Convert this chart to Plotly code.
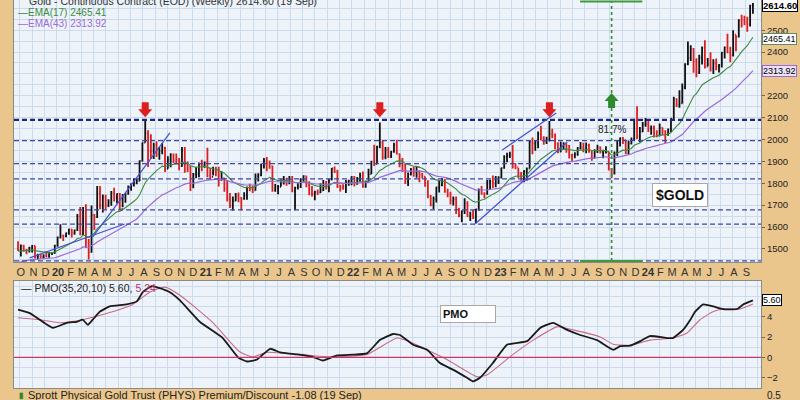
import plotly.graph_objects as go
import pandas as pd

# ---------------- weekly OHLC data (Gold continuous contract) ----------------
opens = [
 1505,1497,1513,1494,1494,1505,1514,1462,1468,1463,1466,1465,1481,1481,
 1515,1553,1562,1560,1572, 1589,1573,1586,1649, 1566,1674,1530,1485, 1655,1645,1753,1699, 1736,1700,1713,1756,1735, 1751,1683,1737,1753, 1780,1790,1801,1810,1902, 1986,2028,1949,1947, 1974,1934,1947,1962, 1866,1907,1930,1906,1905, 1879,1951,1887,1871, 1788,1840,1843,1888,1883,
 1895,1835,1829,1856, 1850,1814,1823,1777, 1728,1698,1720,1742, 1733,1729,1745,1780,1777, 1768,1832,1838,1877, 1903,1892,1878,1769, 1781,1784,1810,1815,1802, 1817,1763,1780,1784, 1819,1833,1792,1754, 1751,1760,1757,1768,1796, 1783,1817,1868,1852, 1788,1784,1784,1804,1811,
 1829,1797,1817,1835, 1786,1808,1842,1899, 1889,1966,1985,1922, 1954,1923,1945,1974,1934, 1911,1882,1808,1842, 1851,1850,1875,1840, 1830,1801,1742,1703,1727, 1781,1791,1816,1762, 1749,1721,1728,1678,1655, 1672,1709,1649,1656, 1645,1681,1771,1754, 1754,1809,1810,1800,1805,
 1826,1870,1921,1928, 1929,1876,1874,1842, 1817,1856,1867,1989,1983, 1986,2025,2007,1990, 1999,2025,2020,1981, 1945,1970,1977,1971,1930, 1929,1933,1961,1964, 1960,1976,1946,1915, 1947,1965,1942,1945,1945, 1866,1845,1941,1994, 2006,1999,1937,1984, 2003,2089,2015,2036,2069,
 2072,2050,2052,2029, 2018,2054,2038,2024, 2046,2095,2186,2161,2165, 2238,2345,2374,2413, 2358,2308,2375,2419,2334, 2345,2325,2349,2333, 2339,2397,2421,2400, 2386,2480,2471,2546,2545, 2536,2527,2611,
]
highs = [
 1535,1520,1519,1499,1510,1518,1514,1478,1478,1475,1489,1486,1484,1519,
 1557,1613,1563,1575,1592, 1591,1588,1659,1691, 1692,1704,1545,1698, 1660,1788,1788,1749, 1747,1727,1765,1779,1753, 1756,1751,1756,1790, 1800,1823,1822,1904,1986, 2089,2043,2024,1985, 1992,1966,1983,1967, 1924,1937,1936,1936,1916, 1966,1966,1900,1880, 1847,1875,1895,1907,1900,
 1962,1870,1875,1875, 1876,1855,1825,1815, 1756,1740,1756,1758, 1736,1759,1785,1798,1790, 1845,1846,1890,1915, 1920,1904,1880,1797, 1792,1818,1833,1825,1833, 1833,1784,1800,1823, 1837,1834,1809,1787, 1766,1771,1800,1815,1810, 1819,1870,1877,1862, 1793,1795,1815,1816,1832,
 1833,1829,1848,1854, 1812,1866,1903,1976, 1971,2078,1996,1966, 1966,1948,1985,1998,1935, 1915,1889,1849,1870, 1874,1878,1859,1847, 1831,1814,1746,1740,1784, 1810,1824,1819,1775, 1761,1740,1739,1688,1676, 1731,1718,1670,1678, 1683,1776,1787,1759, 1815,1816,1836,1833,1832,
 1871,1928,1939,1944, 1975,1891,1870,1852, 1860,1872,1997,2009,1998, 2037,2063,2015,2013, 2085,2049,2027,1988, 1990,1987,1983,1975,1935, 1942,1966,1989,1985, 1986,1981,1947,1956, 1976,1968,1953,1969,1945, 1870,1945,1998,2009, 2012,1997,1996,2009, 2095,2152,2057,2080,2098,
 2086,2064,2064,2042, 2073,2055,2043,2051, 2097,2196,2188,2225,2256, 2349,2448,2431,2418, 2372,2388,2425,2454,2373, 2399,2367,2370,2345, 2400,2425,2484,2424, 2500,2477,2550,2570,2566, 2561,2616,2624,
]
lows = [
 1490,1465,1487,1476,1483,1483,1456,1452,1456,1455,1462,1460,1472,1478,
 1510,1548,1536,1553,1565, 1552,1565,1582,1562, 1563,1504,1451,1483, 1586,1641,1681,1666, 1680,1691,1697,1717,1708, 1677,1690,1711,1748, 1766,1785,1795,1810,1899, 1986,1874,1911,1911, 1920,1907,1933,1851, 1866,1873,1893,1890,1860, 1876,1848,1852,1765, 1777,1823,1828,1855,1871,
 1827,1817,1836,1832, 1785,1813,1761,1717, 1687,1676,1719,1713, 1677,1725,1725,1764,1756, 1767,1808,1832,1868, 1855,1866,1761,1761, 1750,1785,1794,1789,1795, 1759,1677,1772,1778, 1808,1782,1745,1739, 1722,1746,1755,1765,1771, 1759,1814,1847,1778, 1762,1770,1755,1789,1791,
 1785,1793,1808,1780, 1780,1809,1842,1879, 1889,1960,1907,1910, 1915,1915,1940,1932,1873, 1851,1797,1787,1836, 1830,1825,1805,1822, 1784,1732,1695,1681,1712, 1758,1786,1757,1736, 1703,1698,1660,1645,1622, 1660,1647,1627,1637, 1618,1674,1748,1731, 1747,1770,1778,1782,1797,
 1822,1866,1896,1916, 1868,1864,1824,1811, 1805,1810,1867,1933,1949, 1960,1996,1976,1980, 1991,2006,1955,1937, 1942,1953,1939,1913,1900, 1914,1926,1954,1942, 1937,1940,1903,1914, 1938,1936,1914,1936,1858, 1823,1840,1925,1968, 1979,1933,1931,1977, 1998,2002,1987,2034,2058,
 2034,2022,2009,2010, 2015,2020,1984,2017, 2033,2090,2149,2145,2165, 2230,2340,2359,2305, 2285,2300,2343,2325,2335, 2311,2300,2317,2306, 2329,2371,2395,2353, 2380,2404,2466,2512,2523, 2493,2517,2575,
]
closes = [
 1497,1513,1494,1494,1505,1514,1462,1468,1463,1466,1465,1481,1481,1515,
 1553,1562,1560,1572,1589, 1573,1586,1649,1566, 1674,1530,1485,1655, 1645,1753,1699,1736, 1700,1713,1756,1735,1751, 1683,1737,1753,1780, 1790,1801,1810,1902,1986, 2028,1949,1947,1974, 1934,1947,1962,1866, 1907,1930,1906,1905,1879, 1951,1887,1871,1788, 1840,1843,1888,1883,1895,
 1835,1829,1856,1850, 1814,1823,1777,1728, 1698,1720,1742,1733, 1729,1745,1780,1777,1768, 1832,1838,1877,1903, 1892,1878,1769,1781, 1784,1810,1815,1802,1817, 1763,1780,1784,1819, 1833,1792,1754,1751, 1760,1757,1768,1796,1783, 1817,1868,1852,1788, 1784,1784,1804,1811,1829,
 1797,1817,1835,1786, 1808,1842,1899,1889, 1966,1985,1922,1954, 1923,1945,1974,1934,1911, 1882,1808,1842,1851, 1850,1875,1840,1830, 1801,1742,1703,1727,1781, 1791,1816,1762,1749, 1721,1728,1678,1655,1672, 1709,1649,1656,1645, 1681,1771,1754,1754, 1809,1810,1800,1805,1826,
 1870,1921,1928,1929, 1876,1874,1842,1817, 1856,1867,1989,1983,1986, 2025,2007,1990,1999, 2025,2020,1981,1945, 1970,1977,1971,1930,1929, 1933,1961,1964,1960, 1976,1946,1915,1947, 1965,1942,1945,1945,1866, 1845,1941,1994,2006, 1999,1937,1984,2003, 2089,2015,2036,2069,2072,
 2050,2052,2029,2018, 2054,2038,2024,2046, 2095,2186,2161,2165,2238, 2345,2374,2413,2358, 2308,2375,2419,2334,2345, 2325,2349,2333,2339, 2397,2421,2400,2386, 2480,2471,2546,2545,2536, 2527,2611,2614.6,
]
assert len(opens) == len(highs) == len(lows) == len(closes), (len(opens), len(highs), len(lows), len(closes))
first_week = "2019-09-27"
dates = pd.date_range(first_week, periods=len(closes), freq="W-FRI")

ema17_start = 1488
ema43_start = 1435
ema_tag_values = [2465.41, 2313.92]
last_price = 2614.60

# ---------------- PMO ----------------
pmo_dates = ["2019-09-27","2019-10-26","2019-12-22","2020-01-26","2020-02-20","2020-03-05","2020-03-18","2020-03-30",
 "2020-04-17","2020-05-11","2020-06-22","2020-07-17","2020-08-01","2020-08-23","2020-09-12","2020-10-07","2020-11-01",
 "2020-12-20","2021-02-15","2021-03-25","2021-04-16","2021-05-11","2021-06-12","2021-07-07","2021-08-18","2021-09-26",
 "2021-10-21","2021-11-25","2022-01-03","2022-02-07","2022-03-11","2022-04-13","2022-04-30","2022-06-01","2022-07-06",
 "2022-08-07","2022-09-08","2022-10-13","2022-10-28","2022-11-14","2022-12-16","2023-01-20","2023-03-11","2023-04-12",
 "2023-05-14","2023-06-18","2023-07-20","2023-08-31","2023-10-10","2023-10-27","2023-11-21","2023-12-16","2024-01-09",
 "2024-02-21","2024-03-06","2024-03-31","2024-04-18","2024-04-30","2024-05-20","2024-06-14","2024-07-08","2024-08-12",
 "2024-08-27","2024-09-20"]
pmo_vals = [4.7,4.35,2.9,3.4,3.5,3.7,3.2,3.7,
 4.5,5.0,5.2,5.5,6.4,7.0,6.8,6.4,5.6,
 3.5,1.9,0.0,-0.4,-0.2,0.85,0.5,0.3,0.05,
 -0.3,0.2,0.27,0.4,1.7,2.3,2.2,1.25,0.75,
 -0.55,-1.2,-2.0,-2.35,-2.0,-0.55,1.25,1.6,2.9,
 3.4,2.7,2.2,1.7,0.75,1.1,1.15,1.6,2.1,
 1.9,1.9,2.7,3.7,4.5,5.2,5.0,4.75,4.75,
 5.2,5.6]
sig_dates = ["2019-09-27","2019-11-20","2020-01-08","2020-03-05","2020-05-11","2020-07-07","2020-08-18","2020-09-25",
 "2020-11-01","2021-01-22","2021-03-29","2021-05-01","2021-06-04","2021-08-25","2021-11-07","2022-02-07","2022-04-23",
 "2022-06-01","2022-08-24","2022-11-07","2022-12-02","2023-02-04","2023-03-26","2023-05-24","2023-07-03","2023-09-08",
 "2023-10-10","2023-11-21","2024-01-09","2024-03-06","2024-04-10","2024-05-12","2024-06-14","2024-07-08","2024-08-19",
 "2024-09-20"]
sig_vals = [3.9,3.7,3.4,3.7,4.4,5.2,6.4,6.9,
 6.1,3.4,0.55,0.05,0.5,0.3,0.05,0.3,1.9,
 1.4,-0.2,-1.9,-1.7,0.3,1.7,3.0,2.7,2.0,
 1.3,1.2,1.7,1.9,2.4,3.7,4.5,4.75,4.75,
 5.24]
assert len(pmo_dates) == len(pmo_vals) and len(sig_dates) == len(sig_vals)
pmo_last, sig_last = 5.60, 5.24

# ---------------- annotation data ----------------
support_levels = [2090, 1995, 1890, 1820, 1678, 1613, 1445]
peak_dates = ["2020-08-07", "2022-03-11", "2023-05-05"]
peak_arrow_price = 2102
low_date = "2023-10-06"
measure_low, measure_high = 1445, 2631
measure_span = ["2023-07-20", "2023-12-21"]
measure_arrow_price = 2213
measure_pct = "81.7%"
trend_lines = [
    (("2019-10-26", 1459), ("2020-06-17", 1614)),
    (("2020-03-30", 1555), ("2020-10-07", 2030)),
    (("2022-11-02", 1614), ("2023-06-18", 1989)),
    (("2023-01-08", 1952), ("2023-05-22", 2121)),
]
month_labels = ["O","N","D",
 "<b>20</b>","F","M","A","M","J","J","A","S","O","N","D",
 "<b>21</b>","F","M","A","M","J","J","A","S","O","N","D",
 "<b>22</b>","F","M","A","M","J","J","A","S","O","N","D",
 "<b>23</b>","F","M","A","M","J","J","A","S","O","N","D",
 "<b>24</b>","F","M","A","M","J","J","A","S"]
price_ticks = [1500,1600,1700,1800,1900,2000,2100,2200,2400,2500]
pmo_ticks = [-2, 0, 2, 4]

# ---------------- derived lines ----------------
def ema(vals, n, start):
    a = 2.0 / (n + 1)
    e = start
    out = []
    for v in vals:
        e = e + a * (v - e)
        out.append(e)
    return out

ema17 = ema(closes, 17, ema17_start)
ema43 = ema(closes, 43, ema43_start)

month_starts = pd.date_range("2019-10-01", periods=len(month_labels), freq="MS")
label_pos = month_starts + pd.Timedelta(days=3)

# ---------------- styling ----------------
W, H = 800, 400
ML, MR = 14, 39
PW = W - ML - MR
ORANGE = "#EAC68C"
PLOTBG = "#EEF3FA"
GRID = "#CADBEE"
FONT = "Liberation Sans"
GREEN = "#3d8a3d"
PURPLE = "#9a6ad8"
RED = "#dd1f1f"

def px(x):
    return (x - ML) / PW

def py(y):
    return 1 - y / H

fig = go.Figure()
fig.add_trace(go.Ohlc(
    x=dates, open=opens, high=highs, low=lows, close=closes,
    increasing=dict(line=dict(color="#111111", width=1.8)),
    decreasing=dict(line=dict(color=RED, width=1.8)),
    tickwidth=0.35, xaxis="x", yaxis="y", hoverinfo="skip"))
fig.add_trace(go.Scatter(x=dates, y=ema17, mode="lines", line=dict(color=GREEN, width=1.1),
                         xaxis="x", yaxis="y", hoverinfo="skip"))
fig.add_trace(go.Scatter(x=dates, y=ema43, mode="lines", line=dict(color=PURPLE, width=1.2),
                         xaxis="x", yaxis="y", hoverinfo="skip"))
fig.add_trace(go.Scatter(x=sig_dates, y=sig_vals, mode="lines", line=dict(color="#c86a8a", width=1.1, shape="spline", smoothing=0.5),
                         xaxis="x2", yaxis="y2", hoverinfo="skip"))
fig.add_trace(go.Scatter(x=pmo_dates, y=pmo_vals, mode="lines", line=dict(color="#1a1a1a", width=1.8, shape="spline", smoothing=0.4),
                         xaxis="x2", yaxis="y2", hoverinfo="skip"))

xrange = ["2019-09-17", "2024-10-10"]
common_x = dict(range=xrange, showgrid=False, showline=True, linecolor="#8a8a8a", linewidth=1, mirror=True,
                minor=dict(dtick="M1", tick0="2019-10-01", showgrid=True, gridcolor=GRID, gridwidth=1),
                zeroline=False, fixedrange=True, automargin=False)

fig.update_layout(
    width=W, height=H, margin=dict(l=ML, r=MR, t=0, b=0, autoexpand=False),
    paper_bgcolor=ORANGE, plot_bgcolor=PLOTBG, showlegend=False,
    font=dict(family=FONT, size=9, color="#222"),
    xaxis=dict(domain=[0, 1], anchor="y", tickmode="array", tickvals=label_pos, ticktext=month_labels,
               ticks="", tickangle=0, tickfont=dict(size=11, color="#333"), rangeslider=dict(visible=False), **common_x),
    yaxis=dict(domain=[py(262), 1], side="right", range=[1440, 2638], tickmode="array", tickvals=price_ticks,
               ticks="outside", ticklen=3, tickcolor="#666", tickfont=dict(size=9.5, color="#222"),
               showgrid=True, gridcolor=GRID, minor=dict(dtick=50, tick0=0, showgrid=True, gridcolor=GRID),
               showline=True, linecolor="#8a8a8a", mirror=True, zeroline=False, automargin=False),
    xaxis2=dict(domain=[0, 1], anchor="y2", matches="x", showticklabels=False, ticks="", **common_x),
    yaxis2=dict(domain=[py(388), py(281)], side="right", range=[-3, 7.5], tickmode="array", tickvals=pmo_ticks,
                ticks="outside", ticklen=3, tickcolor="#666", tickfont=dict(size=9.5, color="#222"),
                showgrid=True, gridcolor=GRID, minor=dict(dtick=1, showgrid=True, gridcolor=GRID),
                showline=True, linecolor="#8a8a8a", mirror=True, zeroline=False, automargin=False),
    xaxis3=dict(domain=[0, 1], anchor="y3", matches="x", showticklabels=False, ticks="", **common_x),
    yaxis3=dict(domain=[0, py(389)], side="right", range=[0, 1], showticklabels=False, ticks="", showgrid=False,
                showline=True, linecolor="#777", mirror=True, zeroline=False, automargin=False),
)

shapes = []
for i, lvl in enumerate(support_levels):
    shapes.append(dict(type="line", xref="paper", yref="y", x0=0, x1=1, y0=lvl, y1=lvl,
                       line=dict(color="#1c2580" if i == 0 else "#3b46a6", width=2.2 if i == 0 else 1.3, dash="5px,3px")))
shapes.append(dict(type="line", xref="paper", yref="y2", x0=0, x1=1, y0=0, y1=0, line=dict(color="#c8376a", width=1.3)))
for (xa, ya), (xb, yb) in trend_lines:
    shapes.append(dict(type="line", xref="x", yref="y", x0=xa, y0=ya, x1=xb, y1=yb,
                       line=dict(color="#4451d0", width=1.2)))
shapes.append(dict(type="line", xref="x", yref="y", x0=low_date, x1=low_date, y0=measure_low, y1=measure_high,
                   line=dict(color="#2f8f2f", width=1.6, dash="3px,3px")))
for yv in (measure_low, measure_high):
    shapes.append(dict(type="line", xref="x", yref="y", x0=measure_span[0], x1=measure_span[1], y0=yv, y1=yv,
                       line=dict(color="#3f9a3f", width=2)))
down_path = "M0,0 L-7,8 L-3.5,8 L-3.5,15 L3.5,15 L3.5,8 L7,8 Z"
up_path = "M0,0 L-7,-8 L-3.5,-8 L-3.5,-15 L3.5,-15 L3.5,-8 L7,-8 Z"
for d in peak_dates:
    shapes.append(dict(type="path", xref="x", yref="y", xsizemode="pixel", ysizemode="pixel",
                       xanchor=d, yanchor=peak_arrow_price, path=down_path, fillcolor=RED, line=dict(width=0)))
shapes.append(dict(type="path", xref="x", yref="y", xsizemode="pixel", ysizemode="pixel",
                   xanchor=low_date, yanchor=measure_arrow_price, path=up_path, fillcolor="#2e8a2e", line=dict(width=0)))
fig.update_layout(shapes=shapes)

ann = []
ann.append(dict(xref="paper", yref="paper", x=px(27), y=py(1), xanchor="left", yanchor="middle", showarrow=False,
                text="Gold - Continuous Contract (EOD) (Weekly) 2614.60 (19 Sep)", font=dict(size=10.5, color="#333")))
ann.append(dict(xref="paper", yref="paper", x=px(16), y=py(12), xanchor="left", yanchor="middle", showarrow=False,
                text="—EMA(17) 2465.41", font=dict(size=10, color=GREEN)))
ann.append(dict(xref="paper", yref="paper", x=px(16), y=py(23.5), xanchor="left", yanchor="middle", showarrow=False,
                text="—EMA(43) 2313.92", font=dict(size=10, color=PURPLE)))
ann.append(dict(xref="paper", yref="paper", x=px(19), y=py(288), xanchor="left", yanchor="middle", showarrow=False,
                text="— PMO(35,20,10) 5.60, <span style='color:#c0306a'>5.24</span>", font=dict(size=10.5, color="#222")))
ann.append(dict(xref="paper", yref="paper", x=px(26), y=py(395), xanchor="left", yanchor="middle", showarrow=False,
                text="Sprott Physical Gold Trust (PHYS) Premium/Discount -1.08 (19 Sep)", font=dict(size=11, color="#222")))
ann.append(dict(xref="paper", yref="paper", x=px(17), y=py(395), xanchor="left", yanchor="middle", showarrow=False,
                text="<b>▮</b>", font=dict(size=8, color="#2e8a2e")))
ann.append(dict(xref="paper", yref="paper", x=1, y=py(395), xanchor="left", yanchor="middle", showarrow=False, xshift=4,
                text="0.5", font=dict(size=10, color="#222")))
# right value tags
tag_font = dict(size=9, color="#000", family="Liberation Sans")
ann.append(dict(xref="paper", yref="y", x=1, y=last_price, xanchor="left", yanchor="middle", showarrow=False, xshift=1,
                text="<b>2614.60</b>", font=dict(size=9.5, color="#000", family="Liberation Sans"),
                bgcolor="#ffffff", bordercolor="#000", borderwidth=1, borderpad=0))
ann.append(dict(xref="paper", yref="y", x=1, y=ema_tag_values[0], xanchor="left", yanchor="middle", showarrow=False, xshift=1,
                yshift=-1, text="2465.41", font=tag_font, bgcolor="#ffffff", bordercolor="#5f8a5f", borderwidth=1, borderpad=0))
ann.append(dict(xref="paper", yref="y", x=1, y=ema_tag_values[1], xanchor="left", yanchor="middle", showarrow=False, xshift=1,
                text="2313.92", font=tag_font, bgcolor="#ece2f8", bordercolor=PURPLE, borderwidth=1, borderpad=0))
ann.append(dict(xref="paper", yref="y2", x=1, y=pmo_last, xanchor="left", yanchor="middle", showarrow=False, xshift=1,
                text="5.60", font=tag_font, bgcolor="#ffffff", bordercolor="#000", borderwidth=1, borderpad=0))
ann.append(dict(xref="x", yref="y", x=low_date, y=2045, xanchor="center", yanchor="middle", showarrow=False,
                text=measure_pct, font=dict(size=10, color="#222")))
ann.append(dict(xref="paper", yref="paper", x=px(680), y=py(195), xanchor="center", yanchor="middle", showarrow=False,
                text="<b>$GOLD</b>", font=dict(size=14, color="#111"),
                bgcolor="#ffffff", bordercolor="#a8a8a8", borderwidth=1, borderpad=3))
ann.append(dict(xref="paper", yref="paper", x=px(440), y=py(314), xanchor="left", yanchor="middle", showarrow=False,
                text="<b>PMO</b>        ", font=dict(size=11, color="#111"),
                bgcolor="#ffffff", bordercolor="#a8a8a8", borderwidth=1, borderpad=2))
fig.update_layout(annotations=ann)

fig.write_html("out.html", config={"displayModeBar": False},
               post_script="document.body.style.margin='0';document.body.style.background='%s';" % ORANGE)
